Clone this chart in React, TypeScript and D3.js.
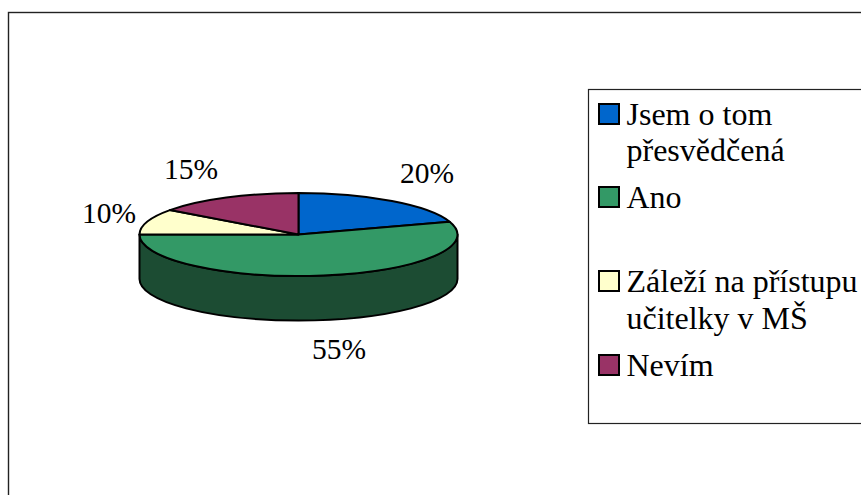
import React from "react";
import * as d3 from "d3";

const categories = ["Jsem o tom přesvědčená", "Ano", "Záleží na přístupu učitelky v MŠ", "Nevím"];
const values = [20, 55, 10, 15];
const labels = ["20%", "55%", "10%", "15%"];
const colors = ["#0066cc", "#339966", "#ffffcc", "#993366"];
const sideColor = "#1c4c33";
const legendLines = [["Jsem o tom", "přesvědčená"], ["Ano"], ["Záleží na přístupu", "učitelky v MŠ"], ["Nevím"]];
const legendSwatchY = [114, 197, 281, 365];
const legendBaselines = [[125, 161], [208], [292, 329], [376]];
const labelPos = [[427, 183], [339, 359], [109, 223], [191, 179]];

const cx = 298.5, cy = 234.5, rx = 159, ry = 41.5, depth = 44.5;
const font = "'Liberation Serif', 'Times New Roman', serif";
const labelSize = 29.5;
const legendSize = 32;

const arcs = d3.pie<number>().sort(null)(values);
const arcGen = d3.arc<d3.PieArcDatum<number>>().innerRadius(0).outerRadius(rx);
const sx = (a: number) => cx + rx * Math.sin(a);

export default function App() {
  const sidePath = `M${sx(Math.PI / 2)},${cy}A${rx},${ry} 0 0 1 ${sx(1.5 * Math.PI)},${cy}L${cx - rx},${cy + depth}A${rx},${ry} 0 0 0 ${cx + rx},${cy + depth}Z`;
  return (
    <svg width={861} height={495} style={{ position: "absolute", left: 0, top: 0, background: "#fff" }}>
      <rect x={8.5} y={12.5} width={900} height={600} fill="#fff" stroke="#222" strokeWidth={1.4} />
      <path d={sidePath} fill={sideColor} stroke="#000" strokeWidth={2} strokeLinejoin="round" />
      {arcs.map((a, i) => (
        <path
          key={i}
          d={arcGen(a) || ""}
          transform={`translate(${cx},${cy}) scale(1,${ry / rx})`}
          fill={colors[i]}
          stroke="#000"
          strokeWidth={2}
          strokeLinejoin="round"
          vectorEffect="non-scaling-stroke"
        />
      ))}
      {labels.map((t, i) => (
        <text key={t} x={labelPos[i][0]} y={labelPos[i][1]} textAnchor="middle" fontFamily={font} fontSize={labelSize} fill="#000">
          {t}
        </text>
      ))}
      <rect x={588.5} y={89.5} width={400} height={334} fill="#fff" stroke="#222" strokeWidth={1.2} />
      {categories.map((c, i) => (
        <g key={c}>
          <rect x={599} y={legendSwatchY[i] - 10} width={20} height={20} fill={colors[i]} stroke="#000" strokeWidth={2} />
          {legendLines[i].map((l, j) => (
            <text key={l} x={626.5} y={legendBaselines[i][j]} fontFamily={font} fontSize={legendSize} fill="#000">
              {l}
            </text>
          ))}
        </g>
      ))}
    </svg>
  );
}
